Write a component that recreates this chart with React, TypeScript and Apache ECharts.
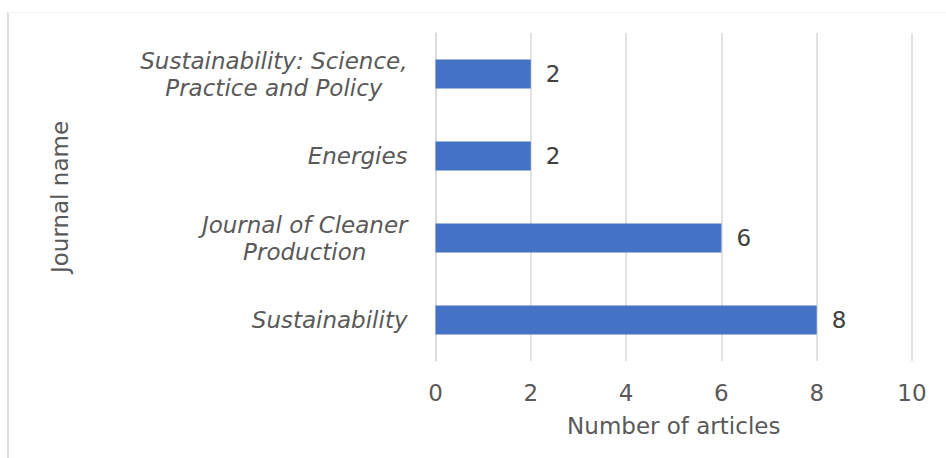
import React, { useEffect, useRef } from "react";
import * as echarts from "echarts";

const categories = [
  "Sustainability",
  "Journal of Cleaner\nProduction",
  "Energies",
  "Sustainability: Science,\nPractice and Policy",
];
const articleCounts = [8, 6, 2, 2];
const xTicks = { min: 0, max: 10, interval: 2 };
const xAxisTitle = "Number of articles";
const yAxisTitle = "Journal name";

const FONT = "'Century Gothic', 'DejaVu Sans', sans-serif";
const GRAY = "#595959";
const FS = 23;

export default function App() {
  const ref = useRef<HTMLDivElement>(null);
  useEffect(() => {
    if (!ref.current) return;
    const chart = echarts.init(ref.current, null, { renderer: "svg" });
    chart.setOption({
      animation: false,
      backgroundColor: "#ffffff",
      textStyle: { fontFamily: FONT },
      grid: { left: 435.5, right: 34, top: 33, bottom: 97, containLabel: false },
      graphic: [
        {
          type: "line",
          shape: { x1: 8, y1: 12, x2: 8, y2: 458 },
          style: { stroke: "#dedede", lineWidth: 2 },
        },
        {
          type: "line",
          shape: { x1: 8, y1: 12.5, x2: 946, y2: 12.5 },
          style: { stroke: "#f3f3f3", lineWidth: 1 },
        },
      ],
      xAxis: {
        type: "value",
        min: xTicks.min,
        max: xTicks.max,
        interval: xTicks.interval,
        name: xAxisTitle,
        nameLocation: "middle",
        nameGap: 53,
        nameTextStyle: { color: GRAY, fontSize: FS, fontFamily: FONT },
        axisLine: { show: false },
        axisTick: { show: false },
        axisLabel: { color: GRAY, fontSize: FS, margin: 20, fontFamily: FONT },
        splitLine: { show: true, lineStyle: { color: "#d9d9d9", width: 1.5 } },
      },
      yAxis: {
        type: "category",
        data: categories,
        name: yAxisTitle,
        nameLocation: "middle",
        nameGap: 364,
        nameRotate: 90,
        nameTextStyle: { color: GRAY, fontSize: FS, fontFamily: FONT },
        axisLine: { show: true, lineStyle: { color: "#d9d9d9", width: 1.5 } },
        axisTick: { show: false },
        axisLabel: {
          color: GRAY,
          fontSize: FS,
          fontStyle: "italic",
          margin: 28,
          align: "right",
          lineHeight: 27,
          fontFamily: FONT,
          formatter: (v: string) =>
            v
              .split("\n")
              .map((l) => `{c|${l}}`)
              .join("\n"),
          rich: {
            c: {
              align: "center",
              color: GRAY,
              fontSize: FS,
              fontStyle: "italic",
              lineHeight: 27,
              fontFamily: FONT,
            },
          },
        },
        splitLine: { show: false },
      },
      series: [
        {
          type: "bar",
          data: articleCounts,
          barWidth: 29,
          itemStyle: { color: "#4472C4" },
          label: {
            show: true,
            position: "right",
            distance: 15,
            color: "#404040",
            fontSize: FS,
            fontFamily: FONT,
          },
        },
      ],
    });
    return () => chart.dispose();
  }, []);
  return (
    <div
      ref={ref}
      style={{ position: "fixed", left: 0, top: 0, width: 946, height: 458 }}
    />
  );
}
